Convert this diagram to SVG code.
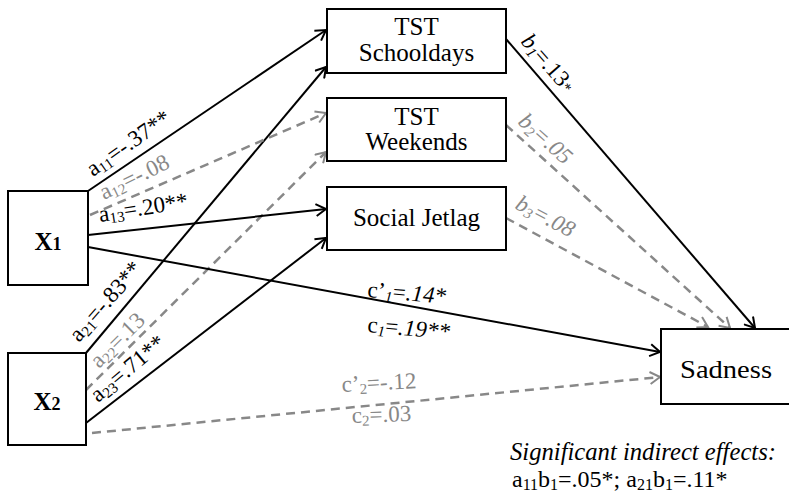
<svg xmlns="http://www.w3.org/2000/svg" width="789" height="498" viewBox="0 0 789 498" font-family="Liberation Serif">
<defs>
<marker id="ab" markerWidth="14" markerHeight="14" refX="12" refY="7" orient="auto" markerUnits="userSpaceOnUse">
<path d="M2,1 L12,7 L2,13" fill="none" stroke="#000" stroke-width="2"/>
</marker>
<marker id="ag" markerWidth="14" markerHeight="14" refX="12" refY="7" orient="auto" markerUnits="userSpaceOnUse">
<path d="M2,1 L12,7 L2,13" fill="none" stroke="#888" stroke-width="2"/>
</marker>
</defs>
<style>
.box{fill:#fff;stroke:#000;stroke-width:2}
.t{font-size:25px;fill:#000;text-anchor:middle}
.l{font-size:23px}
.k{fill:#000}
.g{fill:#888}
.i{font-style:italic}
.n{font-style:normal}
.s{font-size:15px}
.sl{stroke:#000;stroke-width:2;fill:none;marker-end:url(#ab)}
.dl{stroke:#888;stroke-width:2.5;fill:none;stroke-dasharray:9 6;marker-end:url(#ag)}
</style>
<rect width="789" height="498" fill="#fff"/>
<g id="connectors">
<path class="sl" d="M88,191 L326,30"/>
<path class="sl" d="M86,353 L326,67"/>
<path class="dl" d="M90,215 L326,113"/>
<path class="dl" d="M86,390 L326,152"/>
<path class="sl" d="M88,235 L326,209"/>
<path class="sl" d="M86,423 L326,238"/>
<path class="sl" d="M88,247 L660,352"/>
<path class="dl" d="M92,433 L660,377"/>
<path class="sl" d="M506,39 L755,328"/>
<path class="dl" d="M506,125 L730,328"/>
<path class="dl" d="M506,218 L708,327"/>
</g>
<g id="labels">
<text class="l k" transform="translate(93,177) rotate(-35)">a<tspan class="s" dy="3">11</tspan><tspan dy="-3">=-.37**</tspan></text>
<text class="l g" transform="translate(104,200) rotate(-26)">a<tspan class="s" dy="3">12</tspan><tspan dy="-3">=-.08</tspan></text>
<text class="l k" transform="translate(100,222) rotate(-9)">a<tspan class="s" dy="3">13</tspan><tspan dy="-3">=.20**</tspan></text>
<text class="l k" transform="translate(79,343) rotate(-49)">a<tspan class="s" dy="3">21</tspan><tspan dy="-3">=-.83**</tspan></text>
<text class="l g" transform="translate(99,369) rotate(-45)">a<tspan class="s" dy="3">22</tspan><tspan dy="-3">=.13</tspan></text>
<text class="l k" transform="translate(98,403) rotate(-40)">a<tspan class="s" dy="3">23</tspan><tspan dy="-3">=.71**</tspan></text>
<text class="l k i" transform="translate(520,42) rotate(49)">b<tspan class="s" dy="3">1</tspan><tspan dy="-3" class="n">=.13</tspan><tspan class="s">*</tspan></text>
<text class="l g i" transform="translate(517,123) rotate(42)">b<tspan class="s" dy="3">2</tspan><tspan dy="-3">=.05</tspan></text>
<text class="l g i" transform="translate(514,208) rotate(28)">b<tspan class="s" dy="3">3</tspan><tspan dy="-3">=.08</tspan></text>
<text class="l k" transform="translate(367,297) rotate(5)">c’<tspan class="s i" dy="3">1</tspan><tspan dy="-3">=</tspan><tspan class="i">.14*</tspan></text>
<text class="l k" transform="translate(367,332) rotate(5)">c<tspan class="s i" dy="3">1</tspan><tspan dy="-3">=</tspan><tspan class="i">.19**</tspan></text>
<text class="l g" transform="translate(342,392) rotate(-3)">c’<tspan class="s" dy="3">2</tspan><tspan dy="-3">=-.12</tspan></text>
<text class="l g" transform="translate(352,423) rotate(-2)">c<tspan class="s" dy="3">2</tspan><tspan dy="-3">=.03</tspan></text>
</g>
<g id="x1"><rect class="box" x="8" y="191" width="80" height="94"/><text class="t" x="48" y="250" font-size="26" font-weight="bold">X<tspan font-size="18">1</tspan></text></g>
<g id="x2"><rect class="box" x="8" y="353" width="78" height="92"/><text class="t" x="47" y="410" font-size="26" font-weight="bold">X<tspan font-size="18">2</tspan></text></g>
<g id="tst-school"><rect class="box" x="327" y="9" width="179" height="64"/><text class="t" x="416.5" y="35">TST</text><text class="t" x="416.5" y="61">Schooldays</text></g>
<g id="tst-weekend"><rect class="box" x="327" y="98" width="179" height="63"/><text class="t" x="416.5" y="125">TST</text><text class="t" x="416.5" y="150">Weekends</text></g>
<g id="jetlag"><rect class="box" x="327" y="187" width="179" height="63"/><text class="t" x="416.5" y="226">Social Jetlag</text></g>
<g id="sadness"><rect class="box" x="661" y="329" width="140" height="75"/><text class="t" x="726" y="378" font-size="26" textLength="92" lengthAdjust="spacingAndGlyphs">Sadness</text></g>
<g id="note">
<text class="k i" x="510" y="460" font-size="26" textLength="266" lengthAdjust="spacingAndGlyphs">Significant indirect effects:</text>
<text class="k" x="512" y="487" font-size="24">a<tspan font-size="16" dy="3">11</tspan><tspan dy="-3">b</tspan><tspan font-size="16" dy="3">1</tspan><tspan dy="-3">=.05*; a</tspan><tspan font-size="16" dy="3">21</tspan><tspan dy="-3">b</tspan><tspan font-size="16" dy="3">1</tspan><tspan dy="-3">=.11*</tspan></text>
</g>
</svg>
